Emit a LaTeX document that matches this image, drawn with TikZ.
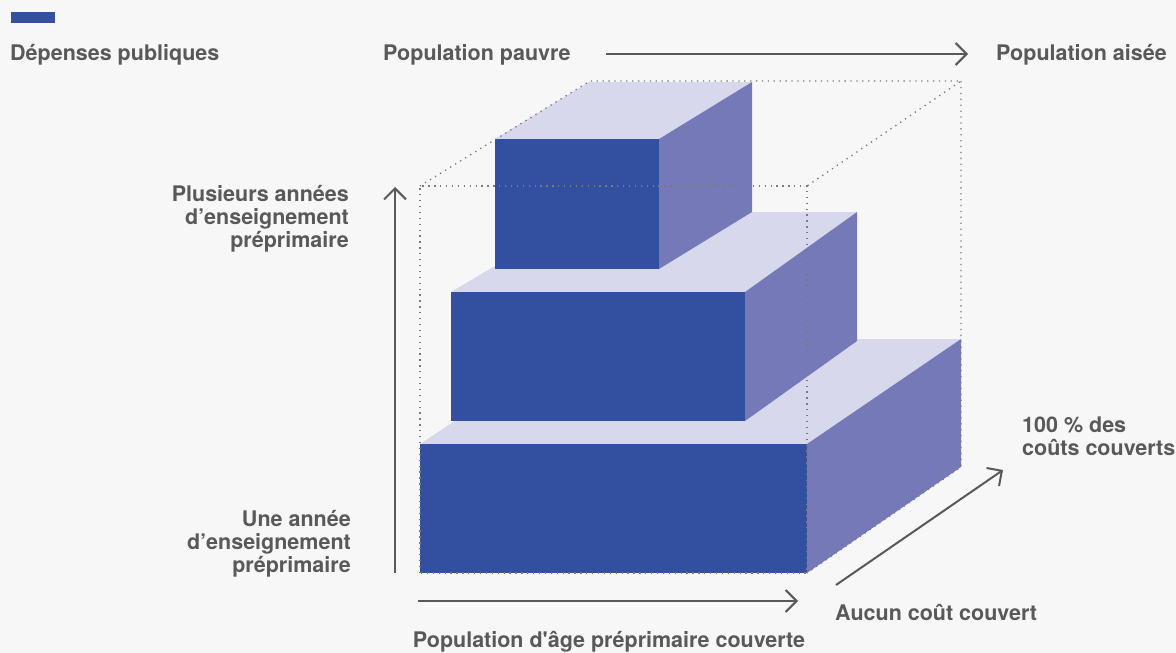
\documentclass[tikz,border=0pt]{standalone}
\usepackage{fontspec}
\setmainfont{TeX Gyre Heros}[Ligatures=TeXOff]
\usetikzlibrary{arrows.meta, positioning}
\definecolor{canvas}{HTML}{F7F7F7}
\definecolor{frontblue}{HTML}{324FA0}
\definecolor{sideblue}{HTML}{7679B8}
\definecolor{topblue}{HTML}{D8D8EC}
\definecolor{labelgray}{HTML}{58595B}
\definecolor{guidegray}{HTML}{7A7A7A}

\begin{document}
\begin{tikzpicture}[x=1pt,y=-1pt,
    lbl/.style={font=\fontsize{21.5}{23}\selectfont\bfseries, text=labelgray, inner sep=0pt},
    axis/.style={draw=labelgray, line width=2pt, -{Straight Barb[length=11pt,width=22pt]}},
    guide/.style={draw=guidegray, line width=1.3pt, dash pattern=on 1.3pt off 4.6pt}]
    \fill[canvas] (0,0) rectangle (1176,653);
    \useasboundingbox (0,0) rectangle (1176,653);
    \fill[frontblue] (11,12) rectangle (55,23);
    % three stacked blocks, bottom first
    \foreach \xl/\xr/\yt/\yb/\bl/\br/\by/\bb in {
        420/807/444/573/578/961/339/467,
        451/745/292/421/586/857/212/341,
        495/659/139/269/589/752/82/212}{
        \fill[topblue] (\xl,\yt) -- (\bl,\by) -- (\br,\by) -- (\xr,\yt) -- cycle;
        \fill[sideblue] (\xr,\yt) -- (\br,\by) -- (\br,\bb) -- (\xr,\yb) -- cycle;
        \fill[frontblue] (\xl,\yt) rectangle (\xr,\yb);
    }
    % dotted outline of the full cube
    \draw[guide] (420,573) -- (420,186) -- (807,186) -- (807,573) -- cycle;
    \draw[guide] (420,186) -- (590,81) -- (961,81) -- (807,186);
    \draw[guide] (961,81) -- (961,467) -- (807,573);
    % labels
    \node[lbl, anchor=base west] (depenses) at (10,60) {Dépenses publiques};
    \node[lbl, anchor=base west] (pauvre) at (383,60) {Population pauvre};
    \node[lbl, anchor=base west] (aisee) at (996,60) {Population aisée};
    \node[lbl, anchor=base east, align=right] (plusieurs) at (349,247)
        {Plusieurs années\\d’enseignement\\préprimaire};
    \node[lbl, anchor=base east, align=right] (une) at (351,572)
        {Une année\\d’enseignement\\préprimaire};
    \node[lbl, anchor=base west, align=left] (cent) at (1022,455)
        {100 \% des\\coûts couverts};
    \node[lbl, anchor=base west] (aucun) at (835,620) {Aucun coût couvert};
    \node[lbl, anchor=base] (popage) at (609,647) {Population d'âge préprimaire couverte};
    % axes
    \coordinate (topA) at (606,54);
    \coordinate (topB) at (968,54);
    \coordinate (upA) at (395,573);
    \coordinate (upB) at (395,187);
    \coordinate (rightA) at (418,601);
    \coordinate (rightB) at (798,601);
    \coordinate (depthA) at (836,585);
    \coordinate (depthB) at (1003,470);
    \draw[axis] (topA) -- (topB);
    \draw[axis] (upA) -- (upB);
    \draw[axis] (rightA) -- (rightB);
    \draw[axis] (depthA) -- (depthB);
\end{tikzpicture}
\end{document}
